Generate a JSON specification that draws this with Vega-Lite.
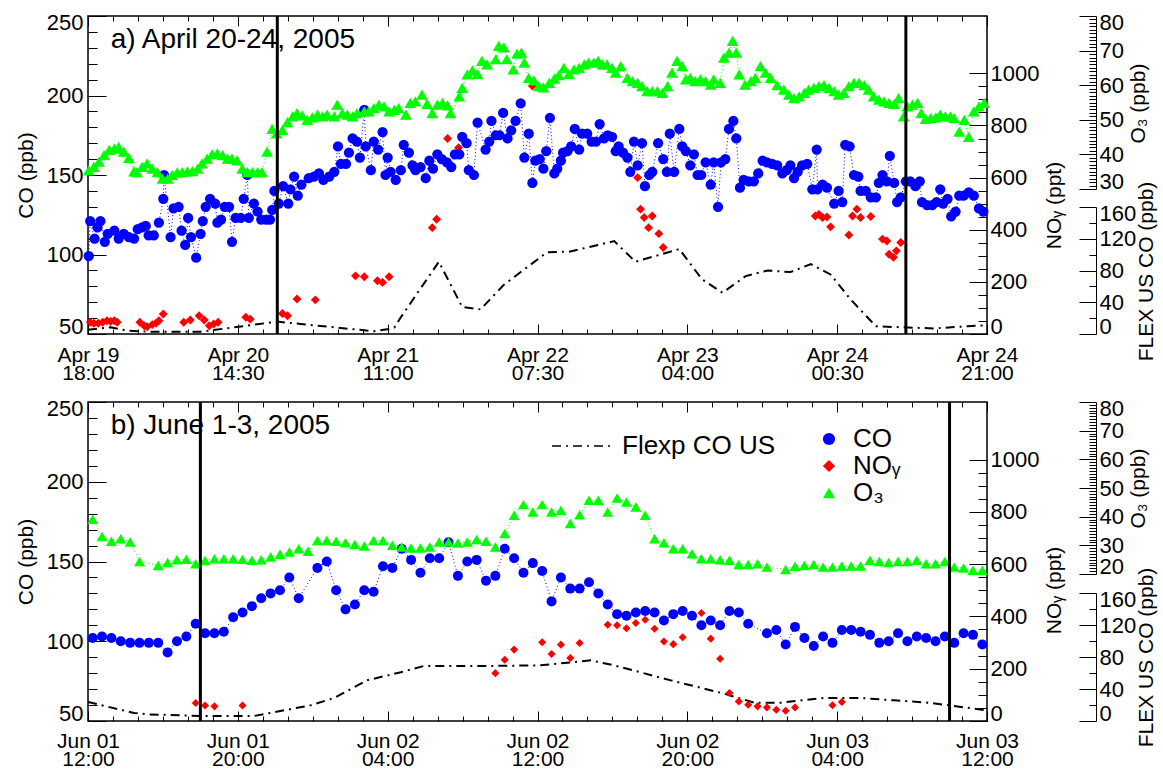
{
"$schema": "https://vega.github.io/schema/vega-lite/v6.json",
"padding": {"left": 14, "top": 7, "right": 5, "bottom": 2},
"config": {
  "font": "Liberation Sans",
  "view": {"stroke": "black", "strokeWidth": 1.5},
  "axis": {"labelFont": "Liberation Sans", "labelFontSize": 22, "labelColor": "black", "titleFont": "Liberation Sans", "titleFontSize": 21, "titleFontWeight": "normal", "titleColor": "black", "tickColor": "black", "domainColor": "black", "grid": false, "labelFlush": false, "labelOverlap": false, "tickWidth": 1},
  "axisY": {"labelFlush": true, "labelFlushOffset": 4},
  "legend": {"labelFont": "Liberation Sans", "labelColor": "black"}
},
"datasets": {
  "coA": [{"h":18.1,"v":99},{"h":18.3,"v":121},{"h":18.9,"v":110},{"h":19.3,"v":117},{"h":19.7,"v":121},{"h":20.3,"v":108},{"h":20.7,"v":113},{"h":21.6,"v":115},{"h":22.2,"v":110},{"h":22.9,"v":113},{"h":23.6,"v":111},{"h":24.3,"v":110},{"h":24.8,"v":116},{"h":25.4,"v":117},{"h":25.9,"v":118},{"h":26.3,"v":112},{"h":27.0,"v":112},{"h":27.7,"v":120},{"h":28.3,"v":135},{"h":28.4,"v":150},{"h":29.3,"v":111},{"h":29.7,"v":129},{"h":30.4,"v":130},{"h":30.8,"v":115},{"h":31.3,"v":106},{"h":31.7,"v":123},{"h":32.1,"v":111},{"h":32.8,"v":98},{"h":33.4,"v":113},{"h":33.7,"v":121},{"h":34.1,"v":130},{"h":34.7,"v":135},{"h":35.4,"v":132},{"h":35.7,"v":120},{"h":36.2,"v":122},{"h":36.7,"v":130},{"h":37.3,"v":130},{"h":37.7,"v":108},{"h":38.2,"v":123},{"h":38.9,"v":123},{"h":39.3,"v":135},{"h":39.8,"v":150},{"h":40.0,"v":123},{"h":40.7,"v":132},{"h":41.2,"v":127},{"h":41.7,"v":122},{"h":42.4,"v":122},{"h":42.9,"v":122},{"h":43.2,"v":128},{"h":43.5,"v":140},{"h":44.1,"v":132},{"h":44.7,"v":143},{"h":45.4,"v":132},{"h":45.7,"v":141},{"h":46.2,"v":149},{"h":46.7,"v":137},{"h":47.2,"v":144},{"h":48.2,"v":148},{"h":48.9,"v":149},{"h":49.6,"v":151},{"h":50.2,"v":147},{"h":51.0,"v":149},{"h":51.7,"v":152},{"h":52.2,"v":168},{"h":52.6,"v":157},{"h":53.3,"v":157},{"h":53.7,"v":164},{"h":54.2,"v":173},{"h":54.8,"v":171},{"h":55.2,"v":161},{"h":55.8,"v":191},{"h":56.0,"v":168},{"h":56.7,"v":153},{"h":57.1,"v":171},{"h":57.7,"v":166},{"h":58.3,"v":177},{"h":58.7,"v":150},{"h":59.0,"v":161},{"h":59.4,"v":152},{"h":60.1,"v":147},{"h":60.8,"v":153},{"h":61.2,"v":169},{"h":61.9,"v":164},{"h":62.4,"v":156},{"h":62.8,"v":153},{"h":63.5,"v":155},{"h":64.2,"v":148},{"h":64.7,"v":159},{"h":65.2,"v":154},{"h":65.8,"v":163},{"h":66.4,"v":160},{"h":67.1,"v":158},{"h":67.7,"v":155},{"h":68.2,"v":163},{"h":68.8,"v":163},{"h":69.2,"v":174},{"h":69.8,"v":170},{"h":70.1,"v":153},{"h":70.8,"v":150},{"h":71.3,"v":183},{"h":72.4,"v":166},{"h":72.9,"v":171},{"h":73.2,"v":184},{"h":73.8,"v":175},{"h":74.3,"v":175},{"h":74.8,"v":189},{"h":75.4,"v":173},{"h":75.9,"v":178},{"h":76.5,"v":184},{"h":77.2,"v":195},{"h":77.7,"v":161},{"h":78.3,"v":176},{"h":78.8,"v":145},{"h":79.2,"v":159},{"h":79.8,"v":160},{"h":80.3,"v":154},{"h":80.7,"v":165},{"h":81.2,"v":186},{"h":81.8,"v":151},{"h":82.2,"v":154},{"h":82.7,"v":159},{"h":83.0,"v":164},{"h":83.6,"v":165},{"h":84.1,"v":168},{"h":84.6,"v":179},{"h":85.2,"v":166},{"h":85.6,"v":176},{"h":86.3,"v":176},{"h":86.9,"v":171},{"h":87.5,"v":171},{"h":88.0,"v":182},{"h":88.6,"v":173},{"h":89.1,"v":175},{"h":89.7,"v":174},{"h":90.2,"v":165},{"h":90.6,"v":168},{"h":91.2,"v":164},{"h":91.8,"v":161},{"h":92.2,"v":152},{"h":92.7,"v":171},{"h":93.2,"v":156},{"h":93.8,"v":170},{"h":94.2,"v":143},{"h":94.8,"v":150},{"h":95.2,"v":152},{"h":96.0,"v":170},{"h":96.7,"v":160},{"h":97.2,"v":152},{"h":97.6,"v":176},{"h":98.2,"v":152},{"h":98.9,"v":179},{"h":99.3,"v":168},{"h":99.8,"v":165},{"h":100.4,"v":156},{"h":100.9,"v":163},{"h":101.4,"v":150},{"h":101.9,"v":150},{"h":102.5,"v":158},{"h":103.2,"v":144},{"h":103.6,"v":158},{"h":104.2,"v":130},{"h":104.6,"v":158},{"h":105.2,"v":160},{"h":105.7,"v":179},{"h":106.3,"v":184},{"h":106.7,"v":173},{"h":107.2,"v":142},{"h":107.7,"v":147},{"h":108.4,"v":146},{"h":109.1,"v":146},{"h":109.7,"v":151},{"h":110.3,"v":159},{"h":110.9,"v":158},{"h":111.6,"v":157},{"h":112.3,"v":156},{"h":113.0,"v":151},{"h":113.6,"v":153},{"h":114.1,"v":156},{"h":114.6,"v":148},{"h":115.1,"v":152},{"h":115.7,"v":156},{"h":116.4,"v":157},{"h":117.1,"v":141},{"h":117.7,"v":166},{"h":117.8,"v":141},{"h":118.5,"v":144},{"h":119.1,"v":142},{"h":120.1,"v":132},{"h":120.7,"v":140},{"h":121.2,"v":133},{"h":121.6,"v":169},{"h":122.2,"v":168},{"h":122.8,"v":150},{"h":123.4,"v":149},{"h":123.7,"v":140},{"h":124.4,"v":140},{"h":125.1,"v":136},{"h":125.8,"v":136},{"h":126.2,"v":145},{"h":126.7,"v":150},{"h":127.3,"v":146},{"h":127.7,"v":162},{"h":128.3,"v":145},{"h":128.7,"v":133},{"h":129.2,"v":136},{"h":129.9,"v":146},{"h":130.5,"v":146},{"h":131.2,"v":143},{"h":131.8,"v":146},{"h":132.1,"v":133},{"h":132.8,"v":131},{"h":133.5,"v":131},{"h":134.1,"v":133},{"h":134.6,"v":141},{"h":135.0,"v":132},{"h":135.6,"v":135},{"h":136.1,"v":124},{"h":136.7,"v":127},{"h":137.2,"v":137},{"h":137.8,"v":137},{"h":138.5,"v":139},{"h":139.2,"v":137},{"h":139.9,"v":129},{"h":140.5,"v":127}],
  "o3A": [{"h":18.1,"v":35.4},{"h":18.8,"v":36.4},{"h":19.5,"v":37.9},{"h":20.2,"v":39.8},{"h":20.9,"v":41.3},{"h":21.6,"v":41.7},{"h":22.2,"v":42.2},{"h":22.9,"v":40.8},{"h":23.6,"v":39.0},{"h":24.3,"v":35.1},{"h":24.7,"v":34.9},{"h":25.4,"v":36.4},{"h":26.1,"v":37.4},{"h":26.8,"v":35.9},{"h":27.5,"v":34.9},{"h":28.2,"v":33.0},{"h":28.9,"v":33.0},{"h":29.5,"v":34.0},{"h":30.2,"v":34.8},{"h":30.9,"v":34.9},{"h":31.6,"v":35.1},{"h":32.3,"v":35.2},{"h":33.0,"v":35.9},{"h":33.6,"v":37.4},{"h":34.3,"v":38.8},{"h":35.0,"v":40.1},{"h":35.7,"v":40.3},{"h":36.4,"v":39.8},{"h":37.1,"v":38.8},{"h":37.7,"v":38.8},{"h":38.4,"v":38.3},{"h":39.1,"v":35.9},{"h":39.8,"v":34.9},{"h":40.5,"v":34.9},{"h":41.2,"v":34.9},{"h":41.8,"v":34.9},{"h":42.5,"v":40.8},{"h":43.2,"v":47.4},{"h":43.8,"v":46.1},{"h":44.6,"v":47.1},{"h":45.3,"v":49.3},{"h":46.0,"v":51.0},{"h":46.6,"v":51.9},{"h":47.3,"v":51.3},{"h":48.0,"v":50.0},{"h":48.7,"v":50.7},{"h":49.4,"v":51.5},{"h":50.1,"v":51.0},{"h":50.7,"v":51.5},{"h":51.7,"v":51.0},{"h":52.1,"v":54.4},{"h":52.8,"v":51.9},{"h":53.5,"v":51.5},{"h":54.2,"v":51.0},{"h":54.8,"v":51.9},{"h":55.8,"v":52.4},{"h":56.4,"v":52.4},{"h":57.1,"v":53.4},{"h":57.8,"v":54.4},{"h":58.5,"v":53.9},{"h":59.2,"v":52.4},{"h":59.9,"v":52.9},{"h":60.5,"v":53.4},{"h":61.5,"v":51.5},{"h":62.1,"v":54.9},{"h":62.8,"v":55.3},{"h":63.7,"v":57.3},{"h":64.4,"v":54.6},{"h":65.1,"v":51.9},{"h":65.8,"v":54.4},{"h":66.5,"v":54.9},{"h":67.2,"v":54.2},{"h":67.6,"v":51.9},{"h":68.8,"v":56.8},{"h":69.2,"v":59.2},{"h":69.9,"v":63.1},{"h":70.6,"v":64.3},{"h":71.3,"v":63.3},{"h":71.9,"v":67.0},{"h":72.6,"v":66.0},{"h":73.8,"v":67.5},{"h":74.2,"v":71.4},{"h":74.9,"v":70.9},{"h":75.3,"v":67.5},{"h":76.2,"v":64.6},{"h":76.7,"v":69.1},{"h":77.3,"v":69.4},{"h":77.7,"v":66.5},{"h":78.3,"v":62.1},{"h":79.0,"v":61.4},{"h":79.7,"v":59.7},{"h":80.3,"v":59.4},{"h":81.1,"v":60.7},{"h":81.8,"v":61.9},{"h":82.4,"v":62.9},{"h":83.1,"v":65.0},{"h":83.8,"v":63.3},{"h":84.5,"v":64.6},{"h":85.2,"v":65.0},{"h":85.9,"v":66.0},{"h":86.5,"v":66.5},{"h":87.2,"v":66.5},{"h":87.8,"v":67.0},{"h":88.4,"v":66.0},{"h":89.0,"v":66.0},{"h":89.7,"v":65.0},{"h":90.2,"v":63.6},{"h":90.9,"v":65.5},{"h":91.8,"v":62.1},{"h":92.5,"v":61.2},{"h":93.2,"v":60.7},{"h":93.8,"v":59.7},{"h":94.5,"v":58.3},{"h":95.2,"v":58.3},{"h":95.9,"v":58.3},{"h":96.6,"v":57.8},{"h":97.3,"v":59.7},{"h":97.9,"v":63.6},{"h":98.6,"v":67.0},{"h":99.3,"v":65.5},{"h":99.8,"v":61.7},{"h":100.4,"v":62.1},{"h":101.1,"v":61.2},{"h":101.8,"v":61.7},{"h":102.5,"v":61.2},{"h":103.2,"v":60.2},{"h":103.6,"v":61.7},{"h":104.5,"v":60.7},{"h":105.0,"v":68.0},{"h":105.7,"v":69.4},{"h":106.2,"v":72.8},{"h":106.7,"v":69.4},{"h":107.1,"v":63.1},{"h":107.9,"v":60.2},{"h":108.7,"v":61.2},{"h":109.3,"v":62.1},{"h":110.0,"v":65.5},{"h":110.7,"v":63.6},{"h":111.4,"v":62.1},{"h":112.3,"v":60.0},{"h":113.2,"v":58.7},{"h":113.9,"v":57.3},{"h":114.6,"v":56.3},{"h":115.3,"v":56.8},{"h":116.0,"v":57.8},{"h":116.6,"v":58.7},{"h":117.3,"v":59.2},{"h":118.0,"v":59.7},{"h":118.7,"v":60.0},{"h":119.4,"v":59.2},{"h":120.1,"v":58.3},{"h":120.7,"v":57.3},{"h":121.4,"v":57.8},{"h":122.1,"v":59.7},{"h":122.8,"v":60.7},{"h":123.5,"v":60.7},{"h":124.2,"v":60.0},{"h":124.8,"v":58.7},{"h":125.5,"v":56.8},{"h":126.2,"v":55.8},{"h":126.9,"v":55.3},{"h":127.6,"v":54.9},{"h":128.3,"v":54.6},{"h":128.9,"v":56.3},{"h":129.6,"v":51.0},{"h":130.1,"v":53.9},{"h":130.8,"v":54.4},{"h":131.5,"v":54.9},{"h":132.0,"v":51.9},{"h":132.6,"v":50.3},{"h":133.3,"v":50.5},{"h":134.0,"v":50.7},{"h":134.6,"v":51.5},{"h":135.3,"v":51.0},{"h":136.0,"v":51.0},{"h":136.5,"v":50.5},{"h":137.2,"v":46.6},{"h":137.9,"v":50.0},{"h":138.5,"v":45.1},{"h":139.2,"v":52.4},{"h":139.9,"v":53.9},{"h":140.6,"v":54.9}],
  "noyA": [{"h":18.3,"v":45},{"h":18.8,"v":41},{"h":19.4,"v":41},{"h":20.0,"v":45},{"h":20.6,"v":51},{"h":21.1,"v":48},{"h":21.6,"v":51},{"h":22.0,"v":45},{"h":25.1,"v":45},{"h":25.7,"v":32},{"h":26.1,"v":28},{"h":26.8,"v":36},{"h":27.3,"v":41},{"h":27.7,"v":51},{"h":28.3,"v":77},{"h":31.1,"v":45},{"h":32.0,"v":54},{"h":33.2,"v":70},{"h":33.9,"v":54},{"h":34.6,"v":32},{"h":35.2,"v":38},{"h":35.8,"v":45},{"h":39.6,"v":64},{"h":40.2,"v":57},{"h":44.6,"v":79},{"h":45.3,"v":70},{"h":46.6,"v":134},{"h":49.1,"v":131},{"h":54.6,"v":223},{"h":55.8,"v":220},{"h":57.6,"v":204},{"h":58.3,"v":198},{"h":59.2,"v":220},{"h":65.1,"v":408},{"h":65.7,"v":440},{"h":67.2,"v":750},{"h":68.7,"v":715},{"h":78.8,"v":951},{"h":93.2,"v":600},{"h":93.6,"v":479},{"h":94.1,"v":447},{"h":94.7,"v":408},{"h":95.2,"v":453},{"h":96.1,"v":385},{"h":96.7,"v":332},{"h":117.5,"v":453},{"h":118.0,"v":459},{"h":118.5,"v":447},{"h":119.1,"v":449},{"h":119.6,"v":411},{"h":122.1,"v":380},{"h":122.6,"v":453},{"h":123.2,"v":479},{"h":123.7,"v":447},{"h":125.1,"v":451},{"h":126.7,"v":364},{"h":127.3,"v":357},{"h":127.6,"v":306},{"h":128.2,"v":294},{"h":128.6,"v":319},{"h":129.2,"v":351}],
  "flexA": [{"h":18.0,"v":5.5},{"h":21.1,"v":8.4},{"h":23.4,"v":4.2},{"h":26.6,"v":2.9},{"h":33.4,"v":2.9},{"h":38.0,"v":8.4},{"h":43.9,"v":15.6},{"h":47.1,"v":12.6},{"h":51.7,"v":8.4},{"h":57.1,"v":3.4},{"h":59.2,"v":6.3},{"h":59.9,"v":8},{"h":60.8,"v":21},{"h":66.0,"v":91},{"h":69.2,"v":34},{"h":71.7,"v":31},{"h":74.9,"v":62},{"h":80.8,"v":103},{"h":84.0,"v":104},{"h":90.0,"v":117},{"h":92.9,"v":91},{"h":98.9,"v":107},{"h":102.0,"v":69},{"h":104.8,"v":52},{"h":108.0,"v":73},{"h":111.0,"v":80},{"h":114.1,"v":78},{"h":116.9,"v":88},{"h":119.6,"v":75},{"h":122.3,"v":44},{"h":125.8,"v":9.7},{"h":129.6,"v":8.4},{"h":133.7,"v":7},{"h":138.3,"v":9.7},{"h":141.0,"v":11}],
  "rulesA": [{"h":43.9},{"h":129.9}],
  "labelA": [{"label": "a) April 20-24, 2005"}],
  "coB": [{"h":12.25,"v":102},{"h":12.75,"v":103},{"h":13.25,"v":102},{"h":13.75,"v":100},{"h":14.25,"v":99},{"h":14.75,"v":99},{"h":15.25,"v":99},{"h":15.75,"v":99},{"h":16.25,"v":93},{"h":16.75,"v":100},{"h":17.25,"v":103},{"h":17.75,"v":111},{"h":18.25,"v":105},{"h":18.75,"v":105},{"h":19.25,"v":106},{"h":19.75,"v":115},{"h":20.25,"v":118},{"h":20.75,"v":122},{"h":21.25,"v":127},{"h":21.75,"v":130},{"h":22.25,"v":132},{"h":22.75,"v":140},{"h":23.25,"v":127},{"h":24.25,"v":146},{"h":24.75,"v":150},{"h":25.25,"v":132},{"h":25.75,"v":120},{"h":26.25,"v":123},{"h":26.75,"v":132},{"h":27.25,"v":131},{"h":27.75,"v":147},{"h":28.25,"v":146},{"h":28.75,"v":158},{"h":29.25,"v":151},{"h":29.75,"v":143},{"h":30.25,"v":152},{"h":30.75,"v":152},{"h":31.25,"v":162},{"h":31.75,"v":141},{"h":32.25,"v":150},{"h":32.75,"v":151},{"h":33.25,"v":138},{"h":33.75,"v":141},{"h":34.25,"v":158},{"h":34.75,"v":152},{"h":35.25,"v":143},{"h":35.75,"v":149},{"h":36.25,"v":144},{"h":36.75,"v":125},{"h":37.25,"v":140},{"h":37.75,"v":133},{"h":38.25,"v":133},{"h":38.75,"v":137},{"h":39.25,"v":130},{"h":39.75,"v":123},{"h":40.25,"v":117},{"h":40.75,"v":116},{"h":41.25,"v":118},{"h":41.75,"v":119},{"h":42.25,"v":118},{"h":42.75,"v":113},{"h":43.25,"v":117},{"h":43.75,"v":119},{"h":44.25,"v":116},{"h":44.75,"v":110},{"h":45.25,"v":113},{"h":45.75,"v":110},{"h":46.25,"v":119},{"h":46.75,"v":118},{"h":47.25,"v":111},{"h":48.25,"v":105},{"h":48.75,"v":107},{"h":49.25,"v":98},{"h":49.75,"v":109},{"h":50.25,"v":102},{"h":50.75,"v":97},{"h":51.25,"v":103},{"h":51.75,"v":99},{"h":52.25,"v":107},{"h":52.75,"v":107},{"h":53.25,"v":106},{"h":53.75,"v":104},{"h":54.25,"v":99},{"h":54.75,"v":100},{"h":55.25,"v":105},{"h":55.75,"v":100},{"h":56.25,"v":103},{"h":56.75,"v":102},{"h":57.25,"v":100},{"h":57.75,"v":103},{"h":58.25,"v":99},{"h":58.75,"v":105},{"h":59.25,"v":104},{"h":59.75,"v":98}],
  "o3B": [{"h":12.25,"v":39.1},{"h":12.75,"v":33.1},{"h":13.25,"v":31.4},{"h":13.75,"v":32.3},{"h":14.25,"v":31.2},{"h":14.75,"v":24.4},{"h":15.75,"v":23.0},{"h":16.25,"v":24.0},{"h":16.75,"v":25.0},{"h":17.25,"v":25.1},{"h":17.75,"v":23.6},{"h":18.25,"v":24.7},{"h":18.75,"v":25.3},{"h":19.25,"v":25.3},{"h":19.75,"v":25.3},{"h":20.25,"v":25.1},{"h":20.75,"v":24.8},{"h":21.25,"v":25.0},{"h":21.75,"v":25.9},{"h":22.25,"v":26.9},{"h":22.75,"v":27.7},{"h":23.25,"v":28.8},{"h":23.75,"v":27.9},{"h":24.25,"v":31.7},{"h":24.75,"v":31.7},{"h":25.25,"v":31.4},{"h":25.75,"v":30.9},{"h":26.25,"v":30.3},{"h":26.75,"v":29.8},{"h":27.25,"v":31.7},{"h":27.75,"v":31.7},{"h":28.25,"v":30.0},{"h":28.75,"v":29.4},{"h":29.25,"v":29.1},{"h":29.75,"v":29.1},{"h":30.25,"v":29.4},{"h":30.75,"v":31.2},{"h":31.25,"v":31.2},{"h":31.75,"v":30.8},{"h":32.25,"v":31.2},{"h":32.75,"v":32.0},{"h":33.25,"v":31.4},{"h":33.75,"v":29.4},{"h":34.25,"v":34.1},{"h":34.75,"v":40.5},{"h":35.25,"v":44.2},{"h":35.75,"v":41.6},{"h":36.25,"v":44.2},{"h":36.75,"v":41.6},{"h":37.25,"v":42.2},{"h":37.75,"v":37.6},{"h":38.25,"v":40.7},{"h":38.75,"v":45.7},{"h":39.25,"v":45.7},{"h":39.75,"v":41.6},{"h":40.25,"v":46.5},{"h":40.75,"v":45.1},{"h":41.25,"v":43.4},{"h":41.75,"v":40.5},{"h":42.25,"v":32.3},{"h":42.75,"v":30.9},{"h":43.25,"v":28.8},{"h":43.75,"v":28.8},{"h":44.25,"v":27.1},{"h":44.75,"v":25.3},{"h":45.25,"v":25.3},{"h":45.75,"v":25.0},{"h":46.25,"v":24.8},{"h":46.75,"v":23.3},{"h":47.25,"v":23.3},{"h":47.75,"v":23.6},{"h":48.25,"v":22.4},{"h":49.25,"v":21.6},{"h":49.75,"v":22.7},{"h":50.25,"v":23.0},{"h":50.75,"v":23.3},{"h":51.25,"v":22.4},{"h":51.75,"v":22.4},{"h":52.25,"v":22.8},{"h":52.75,"v":22.8},{"h":53.25,"v":22.8},{"h":53.75,"v":24.8},{"h":54.25,"v":24.4},{"h":54.75,"v":24.0},{"h":55.25,"v":24.4},{"h":55.75,"v":24.4},{"h":56.25,"v":24.8},{"h":56.75,"v":23.6},{"h":57.25,"v":23.6},{"h":57.75,"v":24.4},{"h":58.25,"v":22.4},{"h":58.75,"v":22.1},{"h":59.25,"v":21.3},{"h":59.75,"v":21.3}],
  "noyB": [{"h":17.75,"v":69},{"h":18.25,"v":59},{"h":18.75,"v":56},{"h":20.25,"v":59},{"h":33.75,"v":183},{"h":34.25,"v":234},{"h":34.75,"v":273},{"h":36.25,"v":301},{"h":36.75,"v":256},{"h":37.25,"v":292},{"h":37.75,"v":241},{"h":38.25,"v":298},{"h":39.75,"v":368},{"h":40.25,"v":366},{"h":40.75,"v":355},{"h":41.25,"v":375},{"h":41.75,"v":387},{"h":42.25,"v":353},{"h":42.75,"v":304},{"h":43.25,"v":294},{"h":43.75,"v":320},{"h":44.75,"v":413},{"h":45.25,"v":315},{"h":45.75,"v":238},{"h":46.25,"v":107},{"h":46.75,"v":75},{"h":47.25,"v":62},{"h":47.75,"v":56},{"h":48.25,"v":52},{"h":48.75,"v":43},{"h":49.25,"v":39},{"h":49.75,"v":52},{"h":51.75,"v":60},{"h":52.25,"v":73}],
  "flexB": [{"h":12,"v":23.8},{"h":14.46,"v":10},{"h":15.26,"v":8.3},{"h":18.02,"v":6.3},{"h":20.87,"v":6.3},{"h":23.89,"v":19.6},{"h":25.14,"v":28.8},{"h":26.92,"v":51},{"h":28.7,"v":61},{"h":29.94,"v":68.8},{"h":33.5,"v":68.8},{"h":36.18,"v":69.6},{"h":38.85,"v":75.8},{"h":40.09,"v":69.6},{"h":43.12,"v":50.8},{"h":45.97,"v":34.2},{"h":47.57,"v":22.9},{"h":48.99,"v":22.9},{"h":51.31,"v":28.8},{"h":53.27,"v":28.8},{"h":55.05,"v":25.8},{"h":56.83,"v":22.9},{"h":57.99,"v":19.6},{"h":59.32,"v":15.4},{"h":60,"v":13.3}],
  "rulesB": [{"h":18.0},{"h":58.0}],
  "labelB": [{"label": "b) June 1-3, 2005"}]
},
"resolve": {"scale": {"color": "independent", "shape": "independent", "strokeDash": "independent"}, "legend": {"color": "independent", "shape": "independent", "strokeDash": "independent"}},
"spacing": 9,
"vconcat": [
{
  "width": 899, "height": 318,
  "resolve": {"scale": {"y": "independent"}, "axis": {"x": "independent", "y": "independent"}},
  "layer": [
    {"data": {"name": "flexA"}, "mark": {"type": "line", "color": "black", "strokeWidth": 2, "strokeDash": [9, 5, 2, 5]},
     "encoding": {
       "x": {"field": "h", "type": "quantitative", "scale": {"domain": [18, 141], "nice": false, "zero": false},
         "axis": {"orient": "bottom", "title": null, "domain": false, "labelFontSize": 21,
           "values": [18,21.4167,24.8333,28.25,31.6667,35.0833,38.5,41.9167,45.3333,48.75,52.1667,55.5833,59,62.4167,65.8333,69.25,72.6667,76.0833,79.5,82.9167,86.3333,89.75,93.1667,96.5833,100,103.4167,106.8333,110.25,113.6667,117.0833,120.5,123.9167,127.3333,130.75,134.1667,137.5833,141],
           "labelExpr": "abs((datum.value-18)/20.5-round((datum.value-18)/20.5))<0.001 ? [utcFormat(utc(2005,3,19)+datum.value*3600000,'%b %d'), utcFormat(utc(2005,3,19)+datum.value*3600000,'%H:%M')] : ''",
           "tickSize": {"condition": {"test": "abs((datum.value-18)/20.5-round((datum.value-18)/20.5))<0.001", "value": -10}, "value": -5},
           "labelPadding": 20, "labelLineHeight": 18}},
       "y": {"field": "v", "type": "quantitative", "scale": {"domain": [0, 160], "range": [318, 191], "nice": false, "zero": false},
         "axis": {"orient": "right", "offset": 109, "values": [0,20,40,60,80,100,120,140,160], "domain": true,
           "labelExpr": "datum.value % 40 == 0 ? datum.label : ''",
           "tickSize": {"condition": {"test": "datum.value % 40 == 0", "value": -17}, "value": -7},
           "labelPadding": 20, "title": "FLEX US CO (ppb)", "titleAngle": 270, "titleX": 50, "titleY": 255, "titleAlign": "center", "titleBaseline": "middle"}}
     }},
    {"data": {"name": "noyA"}, "mark": {"type": "point", "shape": "diamond", "filled": true, "color": "#ff0000", "size": 80, "opacity": 1},
     "encoding": {
       "x": {"field": "h", "type": "quantitative", "scale": {"domain": [18, 141], "nice": false, "zero": false}, "axis": null},
       "y": {"field": "v", "type": "quantitative", "scale": {"domain": [0, 1220], "nice": false, "zero": false},
         "axis": {"orient": "right", "values": [0,50,100,150,200,250,300,350,400,450,500,550,600,650,700,750,800,850,900,950,1000], "domain": false, "format": "d",
           "labelExpr": "datum.value % 200 == 0 ? datum.label : ''",
           "tickSize": {"condition": {"test": "datum.value % 200 == 0", "value": -18}, "value": -9},
           "labelPadding": 21, "title": "NOᵧ (ppt)", "titleAngle": 270, "titleX": 67, "titleY": 189, "titleAlign": "center", "titleBaseline": "middle"}}
     }},
    {"data": {"name": "coA"}, "mark": {"type": "line", "color": "#0000ff", "strokeWidth": 1, "strokeDash": [1, 2.5]},
     "encoding": {
       "x": {"field": "h", "type": "quantitative", "scale": {"domain": [18, 141], "nice": false, "zero": false}, "axis": null},
       "y": {"field": "v", "type": "quantitative", "scale": {"domain": [50, 250], "nice": false, "zero": false},
         "axis": {"orient": "left", "values": [50,60,70,80,90,100,110,120,130,140,150,160,170,180,190,200,210,220,230,240,250], "domain": false,
           "labelExpr": "datum.value % 50 == 0 ? datum.label : ''",
           "tickSize": {"condition": {"test": "datum.value % 50 == 0", "value": -18}, "value": -9},
           "labelPadding": 23, "title": "CO (ppb)", "titlePadding": 10}}
     }},
    {"data": {"name": "coA"}, "mark": {"type": "point", "shape": "circle", "filled": true, "color": "#0000ff", "size": 105, "opacity": 1},
     "encoding": {
       "x": {"field": "h", "type": "quantitative", "scale": {"domain": [18, 141], "nice": false, "zero": false}, "axis": null},
       "y": {"field": "v", "type": "quantitative", "scale": {"domain": [50, 250], "nice": false, "zero": false}, "axis": null}
     }},
    {"data": {"name": "o3A"}, "mark": {"type": "line", "color": "#00ff00", "strokeWidth": 1, "strokeDash": [1, 2.5]},
     "encoding": {
       "x": {"field": "h", "type": "quantitative", "scale": {"domain": [18, 141], "nice": false, "zero": false}, "axis": null},
       "y": {"field": "v", "type": "quantitative", "scale": {"domain": [30, 80], "range": [173, 0], "nice": false, "zero": false}, "axis": null}
     }},
    {"data": {"name": "o3A"}, "mark": {"type": "point", "shape": "triangle-up", "filled": true, "color": "#00ff00", "size": 140, "opacity": 1},
     "encoding": {
       "x": {"field": "h", "type": "quantitative", "scale": {"domain": [18, 141], "nice": false, "zero": false}, "axis": null},
       "y": {"field": "v", "type": "quantitative", "scale": {"domain": [30, 80], "range": [173, 0], "nice": false, "zero": false},
         "axis": {"orient": "right", "offset": 109, "values": [30,31,32,33,34,35,36,37,38,39,40,41,42,43,44,45,46,47,48,49,50,51,52,53,54,55,56,57,58,59,60,61,62,63,64,65,66,67,68,69,70,71,72,73,74,75,76,77,78,79,80], "domain": true,
           "labelExpr": "datum.value % 10 == 0 ? datum.label : ''",
           "tickSize": {"condition": {"test": "datum.value % 10 == 0", "value": -17}, "value": -7},
           "labelPadding": 20, "title": "O₃ (ppb)", "titleAngle": 270, "titleX": 42, "titleY": 87, "titleAlign": "center", "titleBaseline": "middle"}}
     }},
    {"data": {"name": "rulesA"}, "mark": {"type": "rule", "color": "black", "strokeWidth": 3},
     "encoding": {
       "x": {"field": "h", "type": "quantitative", "scale": {"domain": [18, 141], "nice": false, "zero": false},
         "axis": {"orient": "top", "title": null, "domain": false, "labels": false,
           "values": [18,21.4167,24.8333,28.25,31.6667,35.0833,38.5,41.9167,45.3333,48.75,52.1667,55.5833,59,62.4167,65.8333,69.25,72.6667,76.0833,79.5,82.9167,86.3333,89.75,93.1667,96.5833,100,103.4167,106.8333,110.25,113.6667,117.0833,120.5,123.9167,127.3333,130.75,134.1667,137.5833,141],
           "tickSize": {"condition": {"test": "abs((datum.value-18)/20.5-round((datum.value-18)/20.5))<0.001", "value": -10}, "value": -5}}}
     }},
    {"data": {"name": "labelA"}, "mark": {"type": "text", "align": "left", "baseline": "alphabetic", "fontSize": 28, "font": "Liberation Sans", "color": "black"},
     "encoding": {
       "text": {"field": "label", "type": "nominal"},
       "x": {"datum": 21.1, "type": "quantitative", "scale": {"domain": [18, 141], "nice": false, "zero": false}, "axis": null},
       "y": {"datum": 230, "type": "quantitative", "scale": {"domain": [50, 250], "nice": false, "zero": false}, "axis": null}
     }}
  ]
},
{
  "width": 899, "height": 319,
  "resolve": {"scale": {"y": "independent"}, "axis": {"x": "independent", "y": "independent"}},
  "layer": [
    {"data": {"name": "flexB"}, "mark": {"type": "line", "color": "black", "strokeWidth": 2},
     "encoding": {
       "x": {"field": "h", "type": "quantitative", "scale": {"domain": [12, 60], "nice": false, "zero": false},
         "axis": {"orient": "bottom", "title": null, "domain": false, "labelFontSize": 21,
           "values": [12,13.3333,14.6667,16,17.3333,18.6667,20,21.3333,22.6667,24,25.3333,26.6667,28,29.3333,30.6667,32,33.3333,34.6667,36,37.3333,38.6667,40,41.3333,42.6667,44,45.3333,46.6667,48,49.3333,50.6667,52,53.3333,54.6667,56,57.3333,58.6667,60],
           "labelExpr": "abs((datum.value-12)/8-round((datum.value-12)/8))<0.001 ? [utcFormat(utc(2005,5,1)+datum.value*3600000,'%b %d'), utcFormat(utc(2005,5,1)+datum.value*3600000,'%H:%M')] : ''",
           "tickSize": {"condition": {"test": "abs((datum.value-12)/8-round((datum.value-12)/8))<0.001", "value": -10}, "value": -5},
           "labelPadding": 19, "labelLineHeight": 18}},
       "y": {"field": "v", "type": "quantitative", "scale": {"domain": [0, 160], "range": [319, 191], "nice": false, "zero": false},
         "axis": {"orient": "right", "offset": 109, "values": [0,20,40,60,80,100,120,140,160], "domain": true,
           "labelExpr": "datum.value % 40 == 0 ? datum.label : ''",
           "tickSize": {"condition": {"test": "datum.value % 40 == 0", "value": -17}, "value": -7},
           "labelPadding": 20, "title": "FLEX US CO (ppb)", "titleAngle": 270, "titleX": 50, "titleY": 255, "titleAlign": "center", "titleBaseline": "middle"}},
       "strokeDash": {"datum": "Flexp CO US", "type": "nominal", "scale": {"domain": ["Flexp CO US"], "range": [[9, 5, 2, 5]]},
         "legend": {"orient": "none", "legendX": 463, "legendY": 14, "title": null, "labelFontSize": 26, "symbolType": "stroke", "symbolSize": 3364, "symbolStrokeWidth": 1.5, "symbolStrokeColor": "black", "labelOffset": 11}}
     }},
    {"data": {"name": "noyB"}, "mark": {"type": "point", "filled": true, "size": 65, "opacity": 1},
     "encoding": {
       "x": {"field": "h", "type": "quantitative", "scale": {"domain": [12, 60], "nice": false, "zero": false}, "axis": null},
       "y": {"field": "v", "type": "quantitative", "scale": {"domain": [0, 1220], "nice": false, "zero": false},
         "axis": {"orient": "right", "values": [0,50,100,150,200,250,300,350,400,450,500,550,600,650,700,750,800,850,900,950,1000], "domain": false, "format": "d",
           "labelExpr": "datum.value % 200 == 0 ? datum.label : ''",
           "tickSize": {"condition": {"test": "datum.value % 200 == 0", "value": -18}, "value": -9},
           "labelPadding": 21, "title": "NOᵧ (ppt)", "titleAngle": 270, "titleX": 67, "titleY": 188, "titleAlign": "center", "titleBaseline": "middle"}},
       "color": {"datum": "NOᵧ", "type": "nominal", "scale": {"domain": ["CO", "NOᵧ", "O₃"], "range": ["#0000ff", "#ff0000", "#00ff00"]},
         "legend": {"orient": "none", "legendX": 728, "legendY": 24, "title": null, "labelFontSize": 26, "symbolSize": 150, "rowPadding": 1, "labelOffset": 11}},
       "shape": {"datum": "NOᵧ", "type": "nominal", "scale": {"domain": ["CO", "NOᵧ", "O₃"], "range": ["circle", "diamond", "triangle-up"]},
         "legend": {"orient": "none", "legendX": 728, "legendY": 24, "title": null, "labelFontSize": 26, "symbolSize": 150, "rowPadding": 1, "labelOffset": 11}}
     }},
    {"data": {"name": "coB"}, "mark": {"type": "line", "color": "#0000ff", "strokeWidth": 1, "strokeDash": [1, 2.5]},
     "encoding": {
       "x": {"field": "h", "type": "quantitative", "scale": {"domain": [12, 60], "nice": false, "zero": false}, "axis": null},
       "y": {"field": "v", "type": "quantitative", "scale": {"domain": [50, 250], "nice": false, "zero": false},
         "axis": {"orient": "left", "values": [50,60,70,80,90,100,110,120,130,140,150,160,170,180,190,200,210,220,230,240,250], "domain": false,
           "labelExpr": "datum.value % 50 == 0 ? datum.label : ''",
           "tickSize": {"condition": {"test": "datum.value % 50 == 0", "value": -18}, "value": -9},
           "labelPadding": 23, "title": "CO (ppb)", "titlePadding": 10}}
     }},
    {"data": {"name": "coB"}, "mark": {"type": "point", "filled": true, "size": 100, "opacity": 1},
     "encoding": {
       "x": {"field": "h", "type": "quantitative", "scale": {"domain": [12, 60], "nice": false, "zero": false}, "axis": null},
       "y": {"field": "v", "type": "quantitative", "scale": {"domain": [50, 250], "nice": false, "zero": false}, "axis": null},
       "color": {"datum": "CO", "type": "nominal", "scale": {"domain": ["CO", "NOᵧ", "O₃"], "range": ["#0000ff", "#ff0000", "#00ff00"]},
         "legend": {"orient": "none", "legendX": 728, "legendY": 24, "title": null, "labelFontSize": 26, "symbolSize": 150, "rowPadding": 1, "labelOffset": 11}},
       "shape": {"datum": "CO", "type": "nominal", "scale": {"domain": ["CO", "NOᵧ", "O₃"], "range": ["circle", "diamond", "triangle-up"]},
         "legend": {"orient": "none", "legendX": 728, "legendY": 24, "title": null, "labelFontSize": 26, "symbolSize": 150, "rowPadding": 1, "labelOffset": 11}}
     }},
    {"data": {"name": "o3B"}, "mark": {"type": "line", "color": "#00ff00", "strokeWidth": 1, "strokeDash": [1, 2.5]},
     "encoding": {
       "x": {"field": "h", "type": "quantitative", "scale": {"domain": [12, 60], "nice": false, "zero": false}, "axis": null},
       "y": {"field": "v", "type": "quantitative", "scale": {"domain": [20, 80], "range": [172, 0], "nice": false, "zero": false}, "axis": null}
     }},
    {"data": {"name": "o3B"}, "mark": {"type": "point", "filled": true, "size": 120, "opacity": 1},
     "encoding": {
       "x": {"field": "h", "type": "quantitative", "scale": {"domain": [12, 60], "nice": false, "zero": false}, "axis": null},
       "y": {"field": "v", "type": "quantitative", "scale": {"domain": [20, 80], "range": [172, 0], "nice": false, "zero": false},
         "axis": {"orient": "right", "offset": 109, "values": [20,21,22,23,24,25,26,27,28,29,30,31,32,33,34,35,36,37,38,39,40,41,42,43,44,45,46,47,48,49,50,51,52,53,54,55,56,57,58,59,60,61,62,63,64,65,66,67,68,69,70,71,72,73,74,75,76,77,78,79,80], "domain": true,
           "labelExpr": "datum.value % 10 == 0 ? datum.label : ''",
           "tickSize": {"condition": {"test": "datum.value % 10 == 0", "value": -17}, "value": -7},
           "labelPadding": 20, "title": "O₃ (ppb)", "titleAngle": 270, "titleX": 42, "titleY": 86, "titleAlign": "center", "titleBaseline": "middle"}},
       "color": {"datum": "O₃", "type": "nominal", "scale": {"domain": ["CO", "NOᵧ", "O₃"], "range": ["#0000ff", "#ff0000", "#00ff00"]},
         "legend": {"orient": "none", "legendX": 728, "legendY": 24, "title": null, "labelFontSize": 26, "symbolSize": 150, "rowPadding": 1, "labelOffset": 11}},
       "shape": {"datum": "O₃", "type": "nominal", "scale": {"domain": ["CO", "NOᵧ", "O₃"], "range": ["circle", "diamond", "triangle-up"]},
         "legend": {"orient": "none", "legendX": 728, "legendY": 24, "title": null, "labelFontSize": 26, "symbolSize": 150, "rowPadding": 1, "labelOffset": 11}}
     }},
    {"data": {"name": "rulesB"}, "mark": {"type": "rule", "color": "black", "strokeWidth": 3},
     "encoding": {
       "x": {"field": "h", "type": "quantitative", "scale": {"domain": [12, 60], "nice": false, "zero": false},
         "axis": {"orient": "top", "title": null, "domain": false, "labels": false,
           "values": [12,13.3333,14.6667,16,17.3333,18.6667,20,21.3333,22.6667,24,25.3333,26.6667,28,29.3333,30.6667,32,33.3333,34.6667,36,37.3333,38.6667,40,41.3333,42.6667,44,45.3333,46.6667,48,49.3333,50.6667,52,53.3333,54.6667,56,57.3333,58.6667,60],
           "tickSize": {"condition": {"test": "abs((datum.value-12)/8-round((datum.value-12)/8))<0.001", "value": -10}, "value": -5}}}
     }},
    {"data": {"name": "labelB"}, "mark": {"type": "text", "align": "left", "baseline": "alphabetic", "fontSize": 28, "font": "Liberation Sans", "color": "black"},
     "encoding": {
       "text": {"field": "label", "type": "nominal"},
       "x": {"datum": 13.21, "type": "quantitative", "scale": {"domain": [12, 60], "nice": false, "zero": false}, "axis": null},
       "y": {"datum": 230, "type": "quantitative", "scale": {"domain": [50, 250], "nice": false, "zero": false}, "axis": null}
     }}
  ]
}
]
}
